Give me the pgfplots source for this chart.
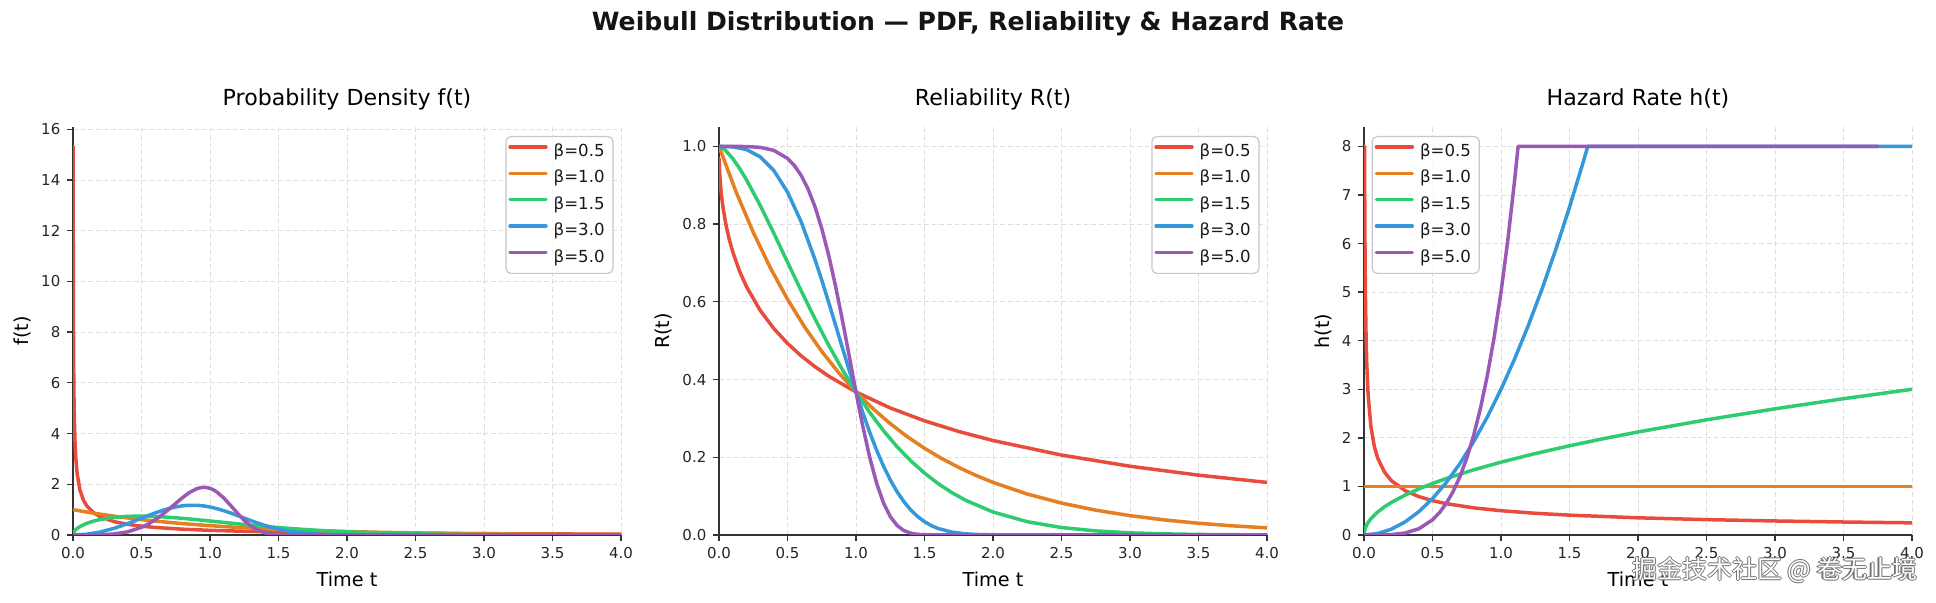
\documentclass[border=0pt]{standalone}
\usepackage{fontspec}
\setmainfont{DejaVu Sans}
\newfontfamily\cjk{Noto Sans CJK SC}
\usepackage{pgfplots}
\pgfplotsset{compat=1.18}

\definecolor{wbRed}{HTML}{E74C3C}
\definecolor{wbOrange}{HTML}{E67E22}
\definecolor{wbGreen}{HTML}{2ECC71}
\definecolor{wbBlue}{HTML}{3498DB}
\definecolor{wbPurple}{HTML}{9B59B6}

\pgfplotsset{
  weibull/.style={
    scale only axis, width=274pt, height=204pt,
    anchor=south west,
    xmin=0, xmax=4, ymin=0,
    axis x line*=bottom, axis y line*=left,
    axis line style={line width=0.65pt, black!80},
    tick style={line width=0.65pt, black!80},
    tick align=outside, major tick length=2.8pt,
    xtick={0,0.5,1,1.5,2,2.5,3,3.5,4},
    xticklabel style={/pgf/number format/fixed, /pgf/number format/fixed zerofill, /pgf/number format/precision=1},
    /pgf/number format/assume math mode=true,
    tick label style={font=\fontsize{7.5pt}{9pt}\selectfont, text=black!85},
    grid=major,
    major grid style={dash pattern=on 2.4pt off 1.4pt, black!13, line width=0.45pt},
    xlabel={Time t},
    xlabel style={font=\fontsize{9.6pt}{11pt}\selectfont, at={(axis description cs:0.5,-0.108)}, anchor=center},
    ylabel style={font=\fontsize{9.6pt}{11pt}\selectfont, anchor=center},
    title style={font=\fontsize{11.05pt}{13pt}\selectfont, at={(axis description cs:0.5,1)}, anchor=base, yshift=4.6pt},
    legend cell align=left,
    legend image code/.code={\draw[##1, line width=1.7pt] (0pt,2.6pt) -- (18pt,2.6pt);},
    legend style={draw=black!22, line width=0.6pt, rounded corners=2.5pt,
      fill=white, fill opacity=0.8, text opacity=1, draw opacity=1,
      font=\fontsize{8.3pt}{10pt}\selectfont, text=black!90,
      inner sep=1.2pt, row sep=0pt,
      nodes={inner xsep=3pt, inner ysep=2.5pt, text height=6.3pt, text depth=1.9pt}},
    every axis plot/.append style={line width=1.75pt, line join=round, line cap=round},
  }
}

\begin{document}
\begin{tikzpicture}
\path[use as bounding box] (0,0) rectangle (968pt,301.5pt);

\node[font=\bfseries\fontsize{12.55pt}{15pt}\selectfont, anchor=base, text=black!92] at (484pt,286pt)
  {Weibull Distribution — PDF, Reliability \& Hazard Rate};

% ---------- probability density ----------
\begin{axis}[weibull, at={(36.5pt,34pt)},
  ymax=16.09, ytick={0,2,4,6,8,10,12,14,16},
  ylabel={f(t)}, ylabel style={at={(axis description cs:-0.0931,0.5)}},
  title={Probability Density f(t)},
  legend style={at={(0.9865,0.978)}, anchor=north east}]
\addplot[wbRed] coordinates {(0.001,15.319)(0.002,10.691)(0.003,8.642)(0.005,6.588)(0.0075,5.295)(0.01,4.524)(0.015,3.612)(0.02,3.069)(0.03,2.428)(0.05,1.788)(0.075,1.388)(0.1,1.1525)(0.15,0.8764)(0.2,0.7149)(0.3,0.5279)(0.4,0.4200)(0.5,0.3487)(0.6,0.2975)(0.8,0.2285)(1.0,0.1839)(1.25,0.1462)(1.5,0.1200)(2,0.0860)(2.5,0.0651)(3,0.0511)(3.5,0.0412)(4,0.0338)};
\addlegendentry{β=0.5}
\addplot[wbOrange] coordinates {(0.001,0.9990)(0.125,0.8825)(0.25,0.7788)(0.375,0.6873)(0.5,0.6065)(0.625,0.5353)(0.75,0.4724)(0.875,0.4169)(1.0,0.3679)(1.125,0.3247)(1.25,0.2865)(1.375,0.2528)(1.5,0.2231)(1.625,0.1969)(1.75,0.1738)(1.875,0.1534)(2.0,0.1353)(2.25,0.1054)(2.5,0.0821)(2.75,0.0639)(3.0,0.0498)(3.25,0.0388)(3.5,0.0302)(3.75,0.0235)(4.0,0.0183)};
\addlegendentry{β=1.0}
\addplot[wbGreen] coordinates {(0.001,0.0474)(0.01,0.1499)(0.025,0.2362)(0.05,0.3317)(0.1,0.4596)(0.15,0.5482)(0.2,0.6134)(0.3,0.6971)(0.4,0.7366)(0.5,0.7448)(0.6,0.7300)(0.7,0.6987)(0.8,0.6560)(0.9,0.6059)(1.0,0.5518)(1.1,0.4963)(1.2,0.4414)(1.3,0.3885)(1.4,0.3387)(1.5,0.2926)(1.6,0.2507)(1.8,0.1799)(2.0,0.1254)(2.25,0.0770)(2.5,0.0455)(2.75,0.0260)(3.0,0.0144)(3.25,0.0077)(3.5,0.0040)(3.75,0.0020)(4.0,0.0010)};
\addlegendentry{β=1.5}
\addplot[wbBlue] coordinates {(0.001,0)(0.1,0.0300)(0.2,0.1190)(0.3,0.2628)(0.4,0.4502)(0.5,0.6619)(0.6,0.8702)(0.65,0.9631)(0.7,1.0432)(0.75,1.1067)(0.8,1.1507)(0.85,1.1729)(0.9,1.1722)(0.95,1.1487)(1.0,1.1036)(1.05,1.0393)(1.1,0.9591)(1.15,0.8670)(1.2,0.7674)(1.25,0.6648)(1.3,0.5635)(1.35,0.4669)(1.4,0.3781)(1.45,0.2991)(1.5,0.2310)(1.55,0.1740)(1.6,0.1278)(1.7,0.0637)(1.8,0.0285)(1.9,0.0114)(2.0,0.0040)(2.25,0.0002)(2.5,0)(4.0,0)};
\addlegendentry{β=3.0}
\addplot[wbPurple] coordinates {(0.001,0)(0.1,0.0005)(0.2,0.0080)(0.3,0.0404)(0.4,0.1267)(0.5,0.3029)(0.55,0.4351)(0.6,0.5995)(0.65,0.7948)(0.7,1.0148)(0.75,1.2478)(0.8,1.4758)(0.85,1.6747)(0.9,1.8176)(0.925,1.8597)(0.95,1.8785)(0.975,1.8721)(1.0,1.8394)(1.025,1.7803)(1.05,1.6961)(1.1,1.4625)(1.15,1.1701)(1.2,0.8611)(1.25,0.5771)(1.3,0.3485)(1.35,0.1875)(1.4,0.0887)(1.45,0.0364)(1.5,0.0127)(1.6,0.0009)(1.8,0)(4.0,0)};
\addlegendentry{β=5.0}
\end{axis}

% ---------- reliability ----------
\begin{axis}[weibull, at={(359.5pt,34pt)},
  ymax=1.05, ytick={0,0.2,0.4,0.6,0.8,1.0},
  yticklabel style={/pgf/number format/fixed, /pgf/number format/fixed zerofill, /pgf/number format/precision=1},
  ylabel={R(t)}, ylabel style={at={(axis description cs:-0.1022,0.5)}},
  title={Reliability R(t)},
  legend style={at={(0.9865,0.978)}, anchor=north east}]
\addplot[wbRed] coordinates {(0.001,0.9689)(0.002,0.9563)(0.003,0.9467)(0.005,0.9317)(0.0075,0.9170)(0.01,0.9048)(0.015,0.8847)(0.02,0.8681)(0.03,0.8410)(0.05,0.7996)(0.075,0.7604)(0.1,0.7289)(0.15,0.6789)(0.2,0.6394)(0.3,0.5783)(0.4,0.5313)(0.5,0.4931)(0.6,0.4609)(0.7,0.4332)(0.8,0.4088)(1.0,0.3679)(1.25,0.3269)(1.5,0.2938)(1.75,0.2663)(2,0.2431)(2.5,0.2057)(3,0.1769)(3.5,0.1540)(4,0.1353)};
\addlegendentry{β=0.5}
\addplot[wbOrange] coordinates {(0.001,0.9990)(0.125,0.8825)(0.25,0.7788)(0.375,0.6873)(0.5,0.6065)(0.625,0.5353)(0.75,0.4724)(0.875,0.4169)(1.0,0.3679)(1.125,0.3247)(1.25,0.2865)(1.375,0.2528)(1.5,0.2231)(1.625,0.1969)(1.75,0.1738)(1.875,0.1534)(2.0,0.1353)(2.25,0.1054)(2.5,0.0821)(2.75,0.0639)(3.0,0.0498)(3.25,0.0388)(3.5,0.0302)(3.75,0.0235)(4.0,0.0183)};
\addlegendentry{β=1.0}
\addplot[wbGreen] coordinates {(0.001,1.0000)(0.01,0.9990)(0.025,0.9961)(0.05,0.9889)(0.1,0.9689)(0.15,0.9436)(0.2,0.9144)(0.3,0.8485)(0.4,0.7765)(0.5,0.7022)(0.6,0.6283)(0.7,0.5567)(0.8,0.4889)(0.9,0.4258)(1.0,0.3679)(1.1,0.3155)(1.2,0.2686)(1.3,0.2271)(1.4,0.1908)(1.5,0.1593)(1.6,0.1321)(1.7,0.1090)(1.8,0.0894)(2.0,0.0591)(2.25,0.0342)(2.5,0.0192)(2.75,0.0105)(3.0,0.0055)(3.25,0.0029)(3.5,0.0014)(3.75,0.0007)(4.0,0.0003)};
\addlegendentry{β=1.5}
\addplot[wbBlue] coordinates {(0.001,1.0000)(0.1,0.9990)(0.2,0.9920)(0.3,0.9734)(0.4,0.9380)(0.5,0.8825)(0.6,0.8057)(0.7,0.7096)(0.75,0.6558)(0.8,0.5993)(0.85,0.5411)(0.9,0.4824)(0.95,0.4243)(1.0,0.3679)(1.05,0.3142)(1.1,0.2642)(1.15,0.2185)(1.2,0.1776)(1.25,0.1418)(1.3,0.1111)(1.35,0.0854)(1.4,0.0643)(1.45,0.0474)(1.5,0.0342)(1.55,0.0241)(1.6,0.0166)(1.7,0.0074)(1.8,0.0029)(1.9,0.0011)(2.0,0.0003)(2.25,0)(4.0,0)};
\addlegendentry{β=3.0}
\addplot[wbPurple] coordinates {(0.001,1.0000)(0.1,1.0000)(0.2,0.9997)(0.3,0.9976)(0.4,0.9898)(0.5,0.9692)(0.55,0.9509)(0.6,0.9252)(0.65,0.8905)(0.7,0.8453)(0.75,0.7888)(0.8,0.7206)(0.85,0.6417)(0.9,0.5541)(0.925,0.5080)(0.95,0.4613)(0.975,0.4143)(1.0,0.3679)(1.025,0.3226)(1.05,0.2791)(1.1,0.1998)(1.15,0.1338)(1.2,0.0830)(1.25,0.0473)(1.3,0.0244)(1.35,0.0113)(1.4,0.0046)(1.45,0.0016)(1.5,0.0005)(1.6,0)(4.0,0)};
\addlegendentry{β=5.0}
\end{axis}

% ---------- hazard rate (capped at 8) ----------
\begin{axis}[weibull, at={(682pt,34pt)},
  ymax=8.4, ytick={0,1,2,3,4,5,6,7,8},
  ylabel={h(t)}, ylabel style={at={(axis description cs:-0.0748,0.5)}},
  title={Hazard Rate h(t)},
  legend style={at={(0.0139,0.978)}, anchor=north west}]
\addplot[wbRed] coordinates {(0.001,8)(0.0039,8)(0.005,7.0711)(0.0075,5.7735)(0.01,5.0)(0.015,4.0825)(0.02,3.5355)(0.03,2.8868)(0.05,2.2361)(0.075,1.8257)(0.1,1.5811)(0.15,1.2910)(0.2,1.1180)(0.3,0.9129)(0.4,0.7906)(0.5,0.7071)(0.6,0.6455)(0.8,0.5590)(1.0,0.5)(1.25,0.4472)(1.5,0.4082)(2,0.3536)(2.5,0.3162)(3,0.2887)(3.5,0.2673)(4,0.25)};
\addlegendentry{β=0.5}
\addplot[wbOrange] coordinates {(0.001,1)(4.0,1)};
\addlegendentry{β=1.0}
\addplot[wbGreen] coordinates {(0.001,0.0474)(0.01,0.15)(0.025,0.2372)(0.05,0.3354)(0.1,0.4743)(0.15,0.5809)(0.2,0.6708)(0.3,0.8216)(0.4,0.9487)(0.5,1.0607)(0.6,1.1619)(0.8,1.3416)(1.0,1.5)(1.25,1.6771)(1.5,1.8371)(1.75,1.9843)(2.0,2.1213)(2.5,2.3717)(3.0,2.5981)(3.5,2.8062)(4.0,3.0)};
\addlegendentry{β=1.5}
\addplot[wbBlue] coordinates {(0.001,0)(0.1,0.03)(0.2,0.12)(0.3,0.27)(0.4,0.48)(0.5,0.75)(0.6,1.08)(0.7,1.47)(0.8,1.92)(0.9,2.43)(1.0,3.0)(1.1,3.63)(1.2,4.32)(1.3,5.07)(1.4,5.88)(1.5,6.75)(1.6,7.68)(1.633,8)(4.0,8)};
\addlegendentry{β=3.0}
\addplot[wbPurple] coordinates {(0.001,0)(0.1,0.0005)(0.2,0.008)(0.3,0.0405)(0.4,0.128)(0.5,0.3125)(0.55,0.4575)(0.6,0.648)(0.65,0.8925)(0.7,1.2005)(0.75,1.582)(0.8,2.048)(0.85,2.61)(0.9,3.2805)(0.95,4.0725)(1.0,5.0)(1.05,6.0775)(1.1,7.3205)(1.1247,8)(3.75,8)};
\addlegendentry{β=5.0}
\end{axis}

% site credit in the lower right corner
\foreach \dx/\dy in {0.55pt/0pt,-0.55pt/0pt,0pt/0.55pt,0pt/-0.55pt}
  \node[font=\cjk\fontsize{12.5pt}{14pt}\selectfont, text=black!55, xshift=\dx, yshift=\dy] at (887.3pt,16.3pt) {掘金技术社区 @ 卷无止境};
\node[font=\cjk\fontsize{12.5pt}{14pt}\selectfont, text=white] at (887.3pt,16.3pt) {掘金技术社区 @ 卷无止境};
\end{tikzpicture}
\end{document}
